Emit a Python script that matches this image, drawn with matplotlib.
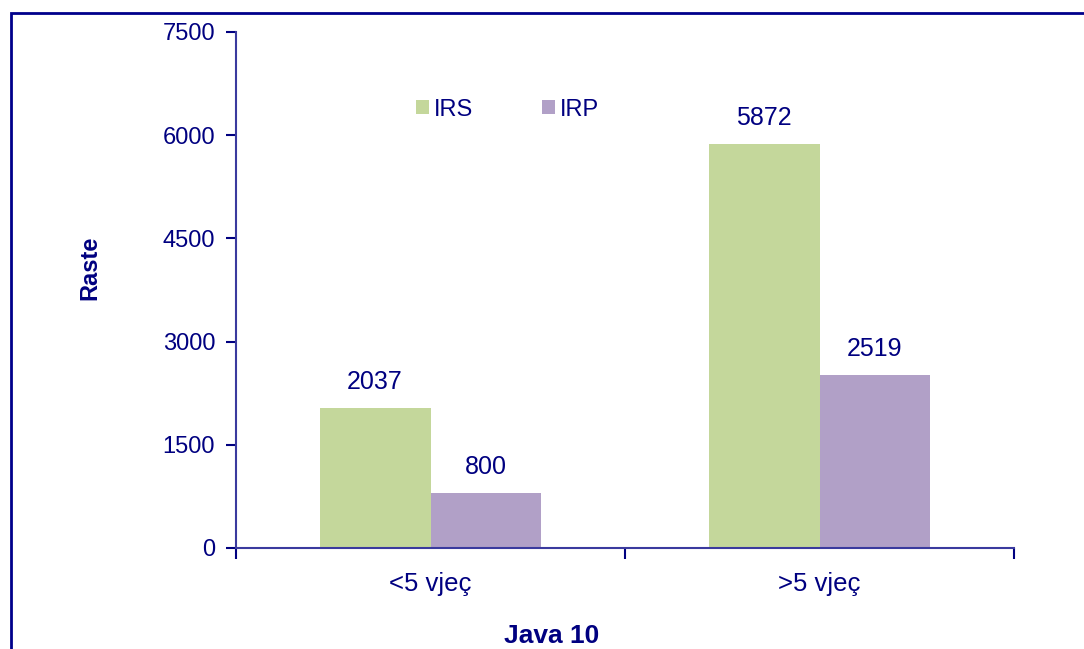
import matplotlib.pyplot as plt
import numpy as np
from matplotlib.patches import Rectangle

plt.rcParams['font.family'] = ['Liberation Sans', 'DejaVu Sans']

# data
categories = ['<5 vjeç', '>5 vjeç']
irs = [2037, 5872]
irp = [800, 2519]
y_ticks = [0, 1500, 3000, 4500, 6000, 7500]

navy = '#000080'
c_irs = '#C4D79B'
c_irp = '#B1A0C7'

W, H = 1084, 649
fig = plt.figure(figsize=(W / 100, H / 100), dpi=100)
ax = fig.add_axes([236 / W, 1 - 548 / H, 778 / W, 516 / H])

# outer frame (cut off on the right and bottom)
fig.patches.append(Rectangle((11 / W, -0.1), 1.2, 1.1 - 13 / H,
                             transform=fig.transFigure, fill=False,
                             edgecolor='#00008B', linewidth=2))

x = np.arange(len(categories))
w = 0.285
b1 = ax.bar(x - w / 2, irs, w, color=c_irs, label='IRS')
b2 = ax.bar(x + w / 2, irp, w, color=c_irp, label='IRP')

for bars in (b1, b2):
    for b in bars:
        ax.annotate(f'{int(b.get_height())}', (b.get_x() + b.get_width() / 2, b.get_height()),
                    xytext=(0, 10), textcoords='offset points', ha='center', va='bottom',
                    fontsize=18, color=navy)

ax.set_xlim(-0.5, 1.5)
ax.set_ylim(0, 7500)
ax.set_yticks(y_ticks)
ax.set_xticks([-0.5, 0.5, 1.5])
ax.set_xticklabels([])
ax.set_xticks(x, minor=True)
ax.set_xticklabels(categories, minor=True)
ax.tick_params(axis='x', which='minor', length=0, pad=17, labelsize=18.5, labelcolor=navy)
ax.tick_params(axis='x', which='major', direction='out', length=8, color=navy, width=1.5)
ax.tick_params(axis='y', direction='out', length=7, color=navy, width=1.5,
               labelsize=17, labelcolor=navy, pad=8)

for s in ('top', 'right'):
    ax.spines[s].set_visible(False)
for s in ('left', 'bottom'):
    ax.spines[s].set_color('#3A3A9E')
    ax.spines[s].set_linewidth(1.5)

# axis titles placed where they sit in the original
fig.text(90 / W, 1 - 268 / H, 'Raste', rotation=90, ha='center', va='center',
         fontsize=17, fontweight='bold', color=navy)
fig.text(552 / W, 1 - 636 / H, 'Java 10', ha='center', va='center',
         fontsize=19, fontweight='bold', color=navy)

ax.legend(loc='center left', bbox_to_anchor=((416 - 236) / 778, (548 - 109.5) / 516),
          ncol=2, frameon=False, borderpad=0, borderaxespad=0,
          fontsize=17, labelcolor=navy, handlelength=0.55, handleheight=0.55,
          handletextpad=0.22, columnspacing=2.9)

fig.savefig('out.png', dpi=100)
